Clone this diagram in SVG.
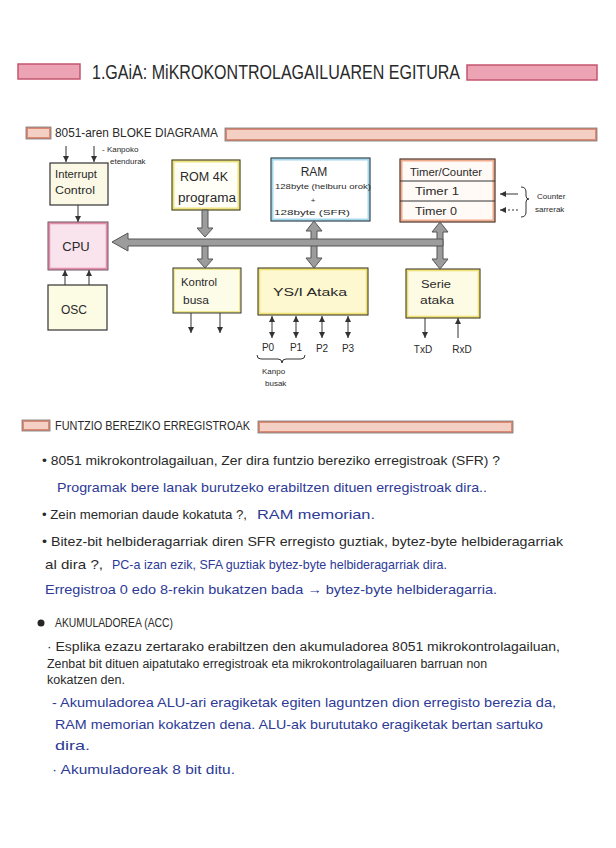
<svg xmlns="http://www.w3.org/2000/svg" width="616" height="848" viewBox="0 0 616 848">
<defs>
<style>
.t{font-family:"Liberation Sans","DejaVu Sans",sans-serif;fill:#2a2a2a;}
.s13{font-size:13px;}
.s12{font-size:12px;}
.s10{font-size:10px;}
.s8{font-size:8px;}
.bl{fill:#2d3a96;}
.mid{text-anchor:middle;}
.edge{stroke:#333;stroke-width:1;fill:none;}
.ln{stroke:#333;stroke-width:1;fill:none;marker-end:url(#ah);}
.dl{stroke:#333;stroke-width:1;fill:none;marker-end:url(#ah);marker-start:url(#ah);}
.bus{fill:#9c9c9c;stroke:#555;stroke-width:1;}
.pinkbar{fill:#eca3b3;stroke:#c4566f;stroke-width:1.5;}
.salbar{fill:#f4d0c4;stroke:#dc8a74;stroke-width:2;}
</style>
<marker id="ah" viewBox="0 0 6 6" refX="6" refY="3" markerWidth="6" markerHeight="6" markerUnits="userSpaceOnUse" orient="auto-start-reverse">
<path d="M0,0 L6,3 L0,6 z" fill="#333"/>
</marker>
</defs>
<rect width="616" height="848" fill="#ffffff"/>

<!-- Title -->
<rect class="pinkbar" x="18" y="64" width="62" height="15"/>
<text class="t" x="92" y="79" font-size="20" textLength="368" lengthAdjust="spacingAndGlyphs">1.GAiA: MiKROKONTROLAGAILUAREN EGITURA</text>
<rect class="pinkbar" x="467" y="65" width="130" height="15"/>

<!-- Section 1 header -->
<rect class="salbar" x="27" y="128" width="23" height="10"/>
<rect x="26" y="127" width="25" height="12" fill="none" stroke="#777" stroke-width="0.8"/>
<text class="t s12" x="55" y="137" textLength="163" lengthAdjust="spacingAndGlyphs">8051-aren BLOKE DIAGRAMA</text>
<rect class="salbar" x="226" y="129" width="370" height="11"/>
<rect x="225" y="128" width="372" height="13" fill="none" stroke="#777" stroke-width="0.8"/>

<!-- Nodes -->
<g id="interrupt">
<rect x="50" y="163" width="58" height="42" fill="#fbf9e6" stroke="#333" stroke-width="1.2"/>
<text class="t s10" x="55" y="178" textLength="42" lengthAdjust="spacingAndGlyphs">Interrupt</text>
<text class="t s10" x="55" y="194" textLength="40" lengthAdjust="spacingAndGlyphs">Control</text>
</g>
<g id="rom">
<rect x="173" y="161" width="66" height="48" fill="#fffff8" stroke="#eee27a" stroke-width="3"/>
<rect x="172" y="160" width="68" height="50" fill="none" stroke="#333" stroke-width="1"/>
<text class="t s12 mid" x="204" y="181" textLength="48" lengthAdjust="spacingAndGlyphs">ROM 4K</text>
<text class="t s12 mid" x="207" y="202" textLength="58" lengthAdjust="spacingAndGlyphs">programa</text>
</g>
<g id="ram">
<rect x="272" y="159" width="97" height="61" fill="#ffffff" stroke="#a4d8ee" stroke-width="3"/>
<rect x="271" y="158" width="99" height="63" fill="none" stroke="#333" stroke-width="1"/>
<text class="t s12 mid" x="314" y="176">RAM</text>
<text class="t s8" x="275" y="189" textLength="96" lengthAdjust="spacingAndGlyphs">128byte (helburu orok)</text>
<text class="t s8 mid" x="313" y="203">+</text>
<text class="t s8" x="274" y="215" textLength="76" lengthAdjust="spacingAndGlyphs">128byte (SFR)</text>
</g>
<g id="timer">
<rect x="401" y="160" width="93" height="61" fill="#fffaf6" stroke="#f0aa8c" stroke-width="3"/>
<rect x="400" y="159" width="95" height="63" fill="none" stroke="#333" stroke-width="1"/>
<line x1="400" y1="181" x2="495" y2="181" stroke="#333" stroke-width="1"/>
<line x1="400" y1="201" x2="495" y2="201" stroke="#333" stroke-width="1"/>
<text class="t s10" x="410" y="176" textLength="72" lengthAdjust="spacingAndGlyphs">Timer/Counter</text>
<text class="t s10" x="415" y="195" textLength="44" lengthAdjust="spacingAndGlyphs">Timer 1</text>
<text class="t s10" x="415" y="215" textLength="42" lengthAdjust="spacingAndGlyphs">Timer 0</text>
</g>
<g id="cpu">
<rect x="49" y="223" width="58" height="46" fill="#f9e3ec" stroke="#e48cac" stroke-width="2.5"/>
<rect x="48" y="222" width="60" height="48" fill="none" stroke="#555" stroke-width="0.8"/>
<text class="t s13 mid" x="76" y="251">CPU</text>
</g>
<g id="osc">
<rect x="48" y="285" width="59" height="45" fill="#fcfbe4" stroke="#333" stroke-width="1.2"/>
<text class="t s12 mid" x="74" y="314">OSC</text>
</g>
<g id="kontrol">
<rect x="174" y="269" width="66" height="43" fill="#fdfce8" stroke="#efe68a" stroke-width="2"/>
<rect x="173" y="268" width="68" height="45" fill="none" stroke="#333" stroke-width="1"/>
<text class="t s10" x="181" y="286" textLength="36" lengthAdjust="spacingAndGlyphs">Kontrol</text>
<text class="t s10" x="183" y="304" textLength="26" lengthAdjust="spacingAndGlyphs">busa</text>
</g>
<g id="ysi">
<rect x="259" y="269" width="108" height="45" fill="#fdf8cf" stroke="#efe070" stroke-width="2.5"/>
<rect x="258" y="268" width="110" height="47" fill="none" stroke="#333" stroke-width="1"/>
<text class="t s10 mid" x="310" y="296" textLength="74" lengthAdjust="spacingAndGlyphs">YS/I Ataka</text>
</g>
<g id="serie">
<rect x="407" y="270" width="72" height="47" fill="#fdfbe4" stroke="#efe070" stroke-width="2.5"/>
<rect x="406" y="269" width="74" height="49" fill="none" stroke="#333" stroke-width="1"/>
<text class="t s10 mid" x="436" y="288" textLength="30" lengthAdjust="spacingAndGlyphs">Serie</text>
<text class="t s10 mid" x="437" y="304" textLength="34" lengthAdjust="spacingAndGlyphs">ataka</text>
</g>

<!-- Connectors -->
<g id="connectors">
<polygon class="bus" points="202,210 208,210 208,228 213,228 205,237 197,228 202,228"/>
<polygon class="bus" points="202,246 208,246 208,259 213,259 205,268 197,259 202,259"/>
<polygon class="bus" points="314,221 322,231 317,231 317,258 322,258 314,268 306,258 311,258 311,231 306,231"/>
<polygon class="bus" points="440,222 448,232 443,232 443,259 448,259 440,269 432,259 437,259 437,232 432,232"/>
<polygon class="bus" points="112,242 128,233 128,239 443,239 443,246 128,246 128,251"/>
<line class="ln" x1="66" y1="146" x2="66" y2="162"/>
<line class="ln" x1="94" y1="146" x2="94" y2="162"/>
<line class="ln" x1="78" y1="205" x2="78" y2="222"/>
<line class="ln" x1="65" y1="285" x2="65" y2="270"/>
<line class="ln" x1="89" y1="285" x2="89" y2="270"/>
<line class="ln" x1="191" y1="313" x2="191" y2="333"/>
<line class="ln" x1="220" y1="313" x2="220" y2="333"/>
<line class="dl" x1="272" y1="316" x2="272" y2="338"/>
<line class="dl" x1="296" y1="316" x2="296" y2="338"/>
<line class="dl" x1="322" y1="316" x2="322" y2="338"/>
<line class="dl" x1="348" y1="316" x2="348" y2="338"/>
<line class="ln" x1="425" y1="318" x2="425" y2="338"/>
<line class="ln" x1="458" y1="338" x2="458" y2="318"/>
<line class="ln" x1="518" y1="194" x2="500" y2="194"/>
<line class="ln" x1="518" y1="210" x2="500" y2="210" stroke-dasharray="2,2"/>
<path class="edge" d="M521,187 Q526,187 526,192 L526,196 Q526,199 529,199 Q526,199 526,202 L526,212 Q526,217 521,217"/>
<path class="edge" d="M257,355 Q257,359 261,359 L278,359 Q282,359 282,363 Q282,359 286,359 L301,359 Q305,359 305,355"/>
</g>

<!-- Diagram labels -->
<text class="t s8" x="102" y="152">- Kanpoko</text>
<text class="t s8" x="110" y="164">etendurak</text>
<text class="t s10 mid" x="268" y="351">P0</text>
<text class="t s10 mid" x="296" y="351">P1</text>
<text class="t s10 mid" x="322" y="352">P2</text>
<text class="t s10 mid" x="348" y="352">P3</text>
<text class="t s8" x="262" y="374">Kanpo</text>
<text class="t s8" x="265" y="386">busak</text>
<text class="t s10 mid" x="423" y="353">TxD</text>
<text class="t s10 mid" x="462" y="353">RxD</text>
<text class="t s8" x="537" y="199">Counter</text>
<text class="t s8" x="535" y="212">sarrerak</text>

<!-- Section 2 -->
<rect class="salbar" x="23" y="421" width="26" height="9"/>
<rect x="22" y="420" width="28" height="11" fill="none" stroke="#777" stroke-width="0.8"/>
<text class="t s12" x="55" y="430" textLength="195" lengthAdjust="spacingAndGlyphs">FUNTZIO BEREZIKO ERREGISTROAK</text>
<rect class="salbar" x="259" y="422" width="253" height="10"/>
<rect x="258" y="421" width="255" height="12" fill="none" stroke="#777" stroke-width="0.8"/>

<text class="t s13" x="42" y="465" textLength="458" lengthAdjust="spacingAndGlyphs">• 8051 mikrokontrolagailuan, Zer dira funtzio bereziko erregistroak (SFR) ?</text>
<text class="t s13 bl" x="57" y="492" textLength="430" lengthAdjust="spacingAndGlyphs">Programak bere lanak burutzeko erabiltzen dituen erregistroak dira..</text>
<text class="t s13" x="42" y="519" textLength="205" lengthAdjust="spacingAndGlyphs">• Zein memorian daude kokatuta ?,</text>
<text class="t s13 bl" x="257" y="519" textLength="118" lengthAdjust="spacingAndGlyphs">RAM memorian.</text>
<text class="t s13" x="42" y="546" textLength="521" lengthAdjust="spacingAndGlyphs">• Bitez-bit helbideragarriak diren SFR erregisto guztiak, bytez-byte helbideragarriak</text>
<text class="t s13" x="45" y="569" textLength="58" lengthAdjust="spacingAndGlyphs">al dira ?,</text>
<text class="t s13 bl" x="112" y="569" textLength="335" lengthAdjust="spacingAndGlyphs">PC-a izan ezik, SFA guztiak bytez-byte helbideragarriak dira.</text>
<text class="t s13 bl" x="45" y="594" textLength="452" lengthAdjust="spacingAndGlyphs">Erregistroa 0 edo 8-rekin bukatzen bada → bytez-byte helbideragarria.</text>

<circle cx="41" cy="623" r="3.5" fill="#262626"/>
<text class="t s13" x="55" y="627" textLength="118" lengthAdjust="spacingAndGlyphs">AKUMULADOREA (ACC)</text>
<text class="t s12" x="47" y="651" textLength="513" lengthAdjust="spacingAndGlyphs">· Esplika ezazu zertarako erabiltzen den akumuladorea 8051 mikrokontrolagailuan,</text>
<text class="t s12" x="47" y="668" textLength="440" lengthAdjust="spacingAndGlyphs">Zenbat bit dituen aipatutako erregistroak eta mikrokontrolagailuaren barruan non</text>
<text class="t s12" x="47" y="684" textLength="78" lengthAdjust="spacingAndGlyphs">kokatzen den.</text>
<text class="t s13 bl" x="52" y="707" textLength="504" lengthAdjust="spacingAndGlyphs">- Akumuladorea ALU-ari eragiketak egiten laguntzen dion erregisto berezia da,</text>
<text class="t s13 bl" x="55" y="729" textLength="488" lengthAdjust="spacingAndGlyphs">RAM memorian kokatzen dena. ALU-ak burututako eragiketak bertan sartuko</text>
<text class="t s13 bl" x="55" y="750" textLength="35" lengthAdjust="spacingAndGlyphs">dira.</text>
<text class="t s13 bl" x="52" y="774" textLength="183" lengthAdjust="spacingAndGlyphs">· Akumuladoreak 8 bit ditu.</text>
</svg>
